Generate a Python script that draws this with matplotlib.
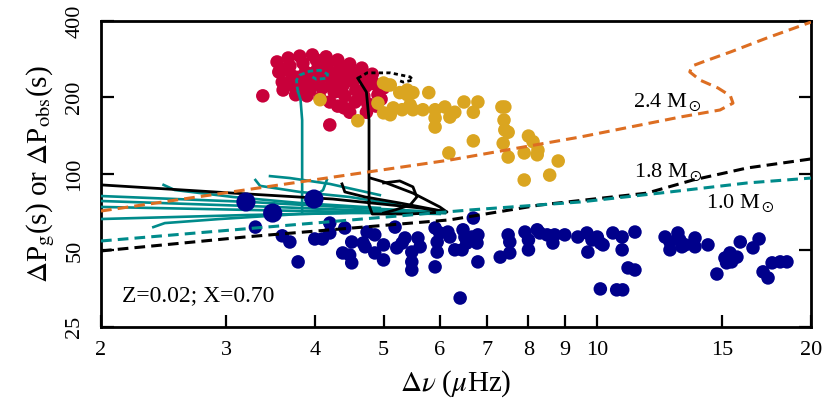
"""
Period spacing vs large frequency separation: observed stars and model tracks
"""

import matplotlib
matplotlib.use('Agg')
import matplotlib.pyplot as plt
from matplotlib.ticker import FixedLocator, NullLocator

plt.rcParams['font.family'] = ['Liberation Serif', 'DejaVu Serif']
plt.rcParams['mathtext.fontset'] = 'stix'

# observed stars (Delta nu in muHz, Delta P in s)
red_dnu = [3.54, 3.56, 3.60, 3.61, 3.67, 3.69, 3.72, 3.74, 3.76, 3.81, 3.85, 3.88, 3.90, 3.90, 3.94,
           3.97, 4.02, 4.04, 4.07, 4.10, 4.07, 4.15, 4.17, 4.20, 4.23, 4.26, 4.20, 4.31, 4.34, 4.37,
           4.38, 4.41, 4.31, 4.40, 4.48, 4.51, 4.54, 4.57, 4.56, 4.48, 4.66, 4.69, 4.73, 4.69, 4.75,
           4.73, 4.82, 4.86, 4.91, 4.88, 5.00, 4.96, 3.38, 4.20,
           3.63, 3.79, 3.95, 4.12, 4.28, 4.44, 4.60, 4.78, 3.70, 3.86, 4.00, 4.16, 4.33, 4.62]
red_dp = [276, 252, 230, 214, 286, 266, 243, 222, 205, 291, 273, 252, 230, 203, 214,
          294, 281, 261, 238, 218, 199, 289, 271, 252, 230, 210, 192, 281, 261, 243,
          222, 203, 185, 182, 271, 252, 234, 214, 192, 175, 261, 243, 222, 203, 189,
          175, 247, 226, 205, 185, 218, 197, 203, 156,
          258, 240, 248, 262, 250, 232, 243, 232, 232, 218, 226, 244, 212, 200]

yellow_dnu = [5.00, 5.11, 4.91, 5.00, 5.11, 5.27, 5.40, 5.50, 5.45, 5.31, 5.68, 5.79, 5.91, 5.91,
              5.91, 6.10, 6.20, 6.30, 6.49, 6.69, 6.79, 6.69, 6.18, 7.34, 7.41, 7.39, 7.41, 7.49,
              7.37, 7.49, 8.00, 8.12, 8.25, 7.89, 8.23, 8.81, 8.57, 7.89, 4.07, 4.60, 5.06, 5.40,
              5.50, 5.16]
yellow_dp = [228, 224, 190, 174, 171, 209, 214, 209, 187, 179, 179, 209, 179, 166,
             153, 183.5, 167.5, 175, 192, 175, 192, 135, 121, 183.5, 183.5, 163, 149, 146,
             132, 116.6, 141, 134, 124, 121, 119, 112.5, 99, 94.7, 196, 162, 224, 205,
             179, 182]

blue_dnu = [3.30, 3.60, 3.69, 3.79, 4.00, 4.10, 4.20, 4.20, 4.41, 4.51, 4.38, 4.48, 4.51, 4.68,
            4.71, 4.74, 4.86, 4.86, 5.00, 5.00, 5.19, 5.22, 5.31, 5.36, 5.48, 5.48, 5.48, 5.59,
            5.63, 5.91, 5.95, 5.95, 5.91, 6.00, 6.16, 6.20, 6.30, 6.45, 6.47, 6.51, 6.55, 6.66,
            6.69, 6.77, 6.79, 6.79, 6.41,
            7.30, 7.49, 7.53, 7.53, 7.91, 8.00, 8.00, 8.23, 8.30, 8.50, 8.66, 8.71, 9.00, 9.39,
            9.67, 9.70, 9.83, 10.0, 10.1, 10.19, 10.52, 10.84, 10.84, 11.05, 11.30, 11.30, 10.1,
            10.65, 10.86, 12.46, 12.66, 12.66, 12.99, 13.07, 13.16, 13.3, 13.73, 13.73, 14.32,
            14.74, 15.13, 15.21, 15.38, 15.46, 15.73, 15.9, 16.57, 16.9, 17.12, 17.4, 17.63,
            18.1, 18.5]
blue_dp = [61.8, 57.1, 54.0, 45.1, 55.5, 55.5, 64.1, 58.6, 61.3, 54.0, 48.9, 48.0, 44.7, 53.5,
           51.7, 59.1, 57.6, 48.9, 52.6, 45.9, 61.8, 51.2, 53.5, 56.0, 49.3, 45.1, 41.9, 56.0,
           51.7, 61.3, 54.0, 49.3, 43.1, 58.6, 59.1, 56.5, 50.3, 50.3, 60.3, 56.5, 53.5, 56.5,
           67.1, 53.5, 57.6, 45.1, 32.5,
           47.1, 57.6, 48.9, 54.0, 59.1, 55.0, 50.3, 60.3, 58.6, 57.6, 53.5, 57.6, 57.6, 56.5,
           58.6, 49.3, 55.0, 56.5, 53.5, 52.6, 58.6, 56.5, 50.3, 42.7, 41.9, 59.1, 35.3,
           35.0, 35.0, 56.5, 50.3, 54.0, 58.6, 55.0, 51.7, 52.6, 56.0, 51.7, 52.6,
           40.4, 46.7, 44.7, 48.9, 45.1, 47.1, 54.0, 51.2, 55.5, 41.2, 39.0, 44.7,
           45.1, 45.1]

big_dnu = [3.20, 3.49, 3.99]
big_dp = [77.6, 70.2, 79.7]

# asymptotic Delta P_g for three masses
m24_dnu = [2.0, 6.2, 9.46, 13.08, 14.89, 15.53, 15.4, 14.79, 13.96, 13.5, 13.6, 14.18, 15.4, 17.34, 20.0]
m24_dp = [71.5, 113.5, 139.8, 167.5, 178.6, 190, 203, 218, 234, 252, 266, 278, 302, 343, 396]
m18_dnu = [2.0, 3.21, 6.2, 8.30, 11.75, 13.64, 16.26, 20.0]
m18_dp = [49.8, 56.6, 66.0, 75.5, 84.1, 94.7, 105.6, 114.6]
m10_dnu = [2.0, 6.62, 9.46, 12.25, 16.26, 20.0]
m10_dp = [54.5, 72.2, 77.6, 84.1, 92.2, 96.4]

# black model track
blk_dnu = [2.0, 3.07, 4.24, 5.63, 6.14, 5.45, 4.82, 4.77, 4.77, 4.77, 4.73, 4.60]
blk_dp = [90.6, 84.1, 79.7, 73.5, 70.9, 69.6, 69.6, 75.5, 113.5, 163, 210, 238]
blk2_dnu = [4.37, 4.41, 4.71, 5.27, 6.14, 6.00, 5.50, 5.00, 4.79]
blk2_dp = [91.4, 85.0, 81.2, 76.9, 70.9, 74.2, 84.1, 93.1, 96.4]
blk3_dnu = [5.00, 5.27, 5.50, 5.57, 5.45, 5.19, 5.00]
blk3_dp = [92.2, 93.9, 89.0, 81.2, 75.5, 72.2, 70.2]
blkdot_dnu = [4.60, 4.74, 5.11, 5.45, 5.50, 5.33, 5.24]
blkdot_dp = [238, 250, 250, 241, 234, 230, 234]

# teal model tracks
teal_tracks = [
    ([2.0, 3.24, 4.34, 6.00], [81.9, 77.6, 74.2, 70.9]),
    ([2.0, 3.24, 4.48, 6.10], [78.3, 74.8, 72.2, 70.2]),
    ([2.0, 3.24, 4.48, 6.00], [74.2, 72.2, 70.9, 69.6]),
    ([2.0, 3.24, 4.48, 6.10], [66.5, 69.0, 70.2, 70.2]),
    ([2.45, 2.54, 3.07, 3.81, 4.94], [90.6, 86.5, 81.2, 76.9, 73.5]),
    ([2.37, 2.46, 2.94, 3.81, 4.94], [61.8, 64.1, 66.5, 69.6, 70.9]),
    ([3.30, 3.35, 3.81, 4.48, 5.27], [94.7, 89.8, 85.0, 81.2, 75.5]),
    ([3.46, 3.69, 4.20, 4.94], [98.1, 96.4, 91.4, 82.6]),
    ([4.16, 4.11, 4.02, 3.88], [94.7, 86.5, 82.6, 79.0]),
    ([3.84, 3.84, 3.84, 3.82, 3.79], [70.9, 94.7, 163, 196, 210]),
]
tealdash_dnu = [3.79, 3.78, 3.77, 3.81, 3.94, 4.07, 4.17, 4.16, 4.02, 3.97]
tealdash_dp = [210, 218, 234, 245, 254, 256, 247, 238, 236, 241]

c_red = '#C8003A'
c_yel = '#DAA520'
c_blue = '#00008B'
c_teal = '#008B8B'
c_orange = '#DD6E22'

fig = plt.figure(figsize=(8.3, 4.18), dpi=100)
ax = fig.add_axes([0.1217, 0.2177, 0.8554, 0.7321])
ax.set_xscale('log')
ax.set_yscale('log')

ax.scatter(red_dnu, red_dp, s=95, color=c_red, edgecolors='none', zorder=2)
ax.scatter(yellow_dnu, yellow_dp, s=95, color=c_yel, edgecolors='none', zorder=2)
ax.scatter(blue_dnu, blue_dp, s=95, color=c_blue, edgecolors='none', zorder=2)

for tx, ty in teal_tracks:
    ax.plot(tx, ty, color=c_teal, lw=1.9, zorder=3)
ax.plot(tealdash_dnu, tealdash_dp, color=c_teal, lw=2, ls=(0, (2, 1.2)), zorder=3)

ax.plot(blk_dnu, blk_dp, color='black', lw=2, zorder=3)
ax.plot(blk2_dnu, blk2_dp, color='black', lw=2, zorder=3)
ax.plot(blk3_dnu, blk3_dp, color='black', lw=2, zorder=3)
ax.plot(blkdot_dnu, blkdot_dp, color='black', lw=2, ls=(0, (1.5, 1.2)), zorder=3)

ax.plot(m24_dnu, m24_dp, color=c_orange, lw=2.2, ls=(0, (3.5, 2)), zorder=3)
ax.plot(m18_dnu, m18_dp, color='black', lw=2.2, ls=(0, (3.5, 2)), zorder=3)
ax.plot(m10_dnu, m10_dp, color=c_teal, lw=2.2, ls=(0, (3.5, 2)), zorder=3)

ax.scatter(big_dnu, big_dp, s=190, color=c_blue, edgecolors='none', zorder=4)

ax.text(12.54, 192, r'2.4 M$_\odot$', fontsize=16, ha='center', va='center')
ax.text(12.6, 102, r'1.8 M$_\odot$', fontsize=16, ha='center', va='center')
ax.text(15.9, 76.9, r'1.0 M$_\odot$', fontsize=16, ha='center', va='center')
ax.text(2.14, 33.2, 'Z=0.02; X=0.70', fontsize=17, ha='left', va='center')

ax.set_xlim(2, 20)
ax.set_ylim(25, 400)
xt = [2, 3, 4, 5, 6, 7, 8, 9, 10, 15, 20]
yt = [25, 50, 100, 200, 400]
ax.xaxis.set_major_locator(FixedLocator(xt))
ax.xaxis.set_minor_locator(NullLocator())
ax.yaxis.set_major_locator(FixedLocator(yt))
ax.yaxis.set_minor_locator(NullLocator())
ax.set_xticklabels([str(v) for v in xt])
ax.set_yticklabels([str(v) for v in yt], rotation=90, va='center')
ax.tick_params(axis='both', which='major', direction='in', length=9, width=1.6,
               labelsize=16, right=True, top=False)
ax.tick_params(axis='x', pad=10)
ax.tick_params(axis='y', pad=12)
for sp in ax.spines.values():
    sp.set_linewidth(2)

ax.set_xlabel(r'$\Delta\nu$ ($\mu$Hz)', fontsize=21, labelpad=6)
ax.set_ylabel(r'$\Delta$P$_{\rm g}$(s) or $\Delta$P$_{\rm obs}$(s)', fontsize=21, labelpad=6)

fig.savefig('out.png', dpi=100)
